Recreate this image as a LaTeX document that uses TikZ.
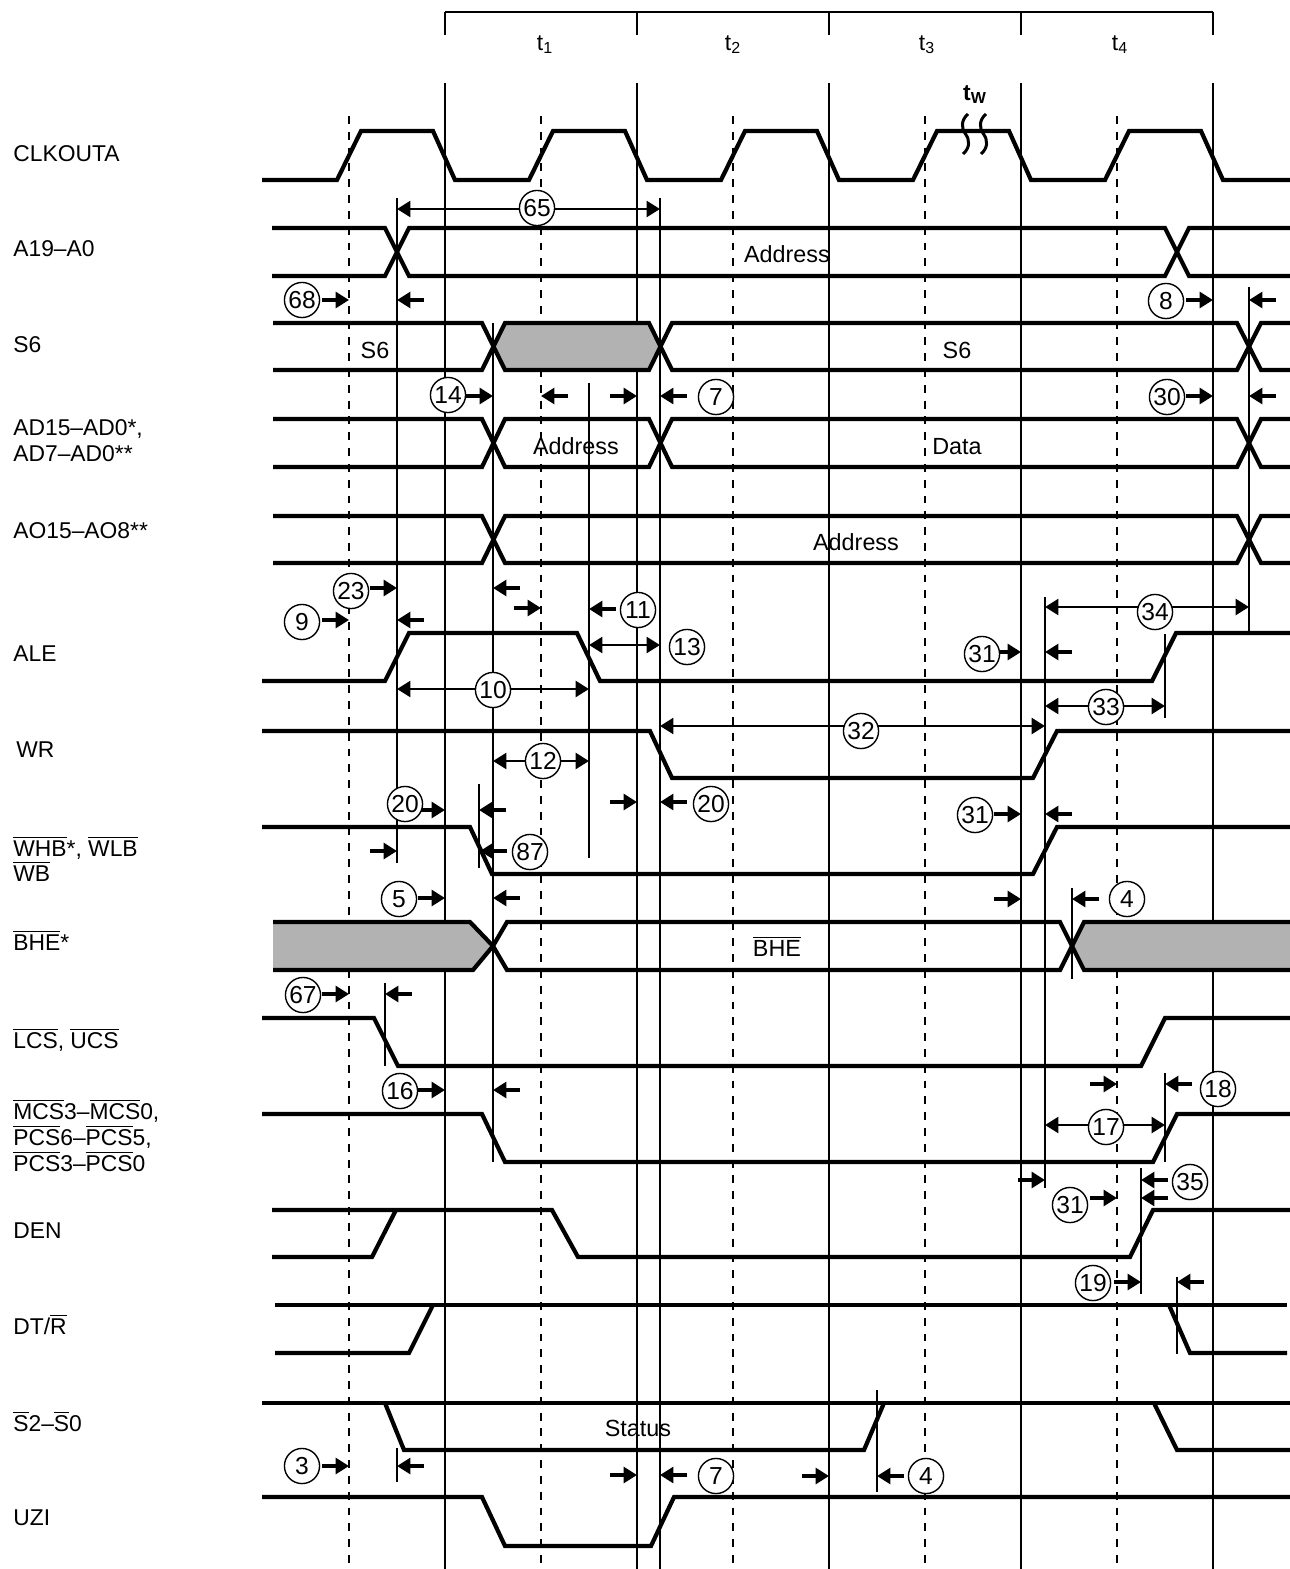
\documentclass[tikz,border=0pt]{standalone}
\usepackage{fontspec}
\setmainfont{Liberation Sans}
\usepackage{tikz}
\usetikzlibrary{arrows.meta}
\newcommand{\nbar}[1]{\ensuremath{\overline{\mbox{#1}}}}
\tikzset{
    sig/.style={line width=2.4pt, line join=miter},
    gridline/.style={line width=0.7pt},
    halfline/.style={line width=0.7pt, dash pattern=on 4.5pt off 4.5pt},
    limline/.style={line width=1.1pt},
    arr/.style={-{Triangle[length=7.6pt,width=9pt]}, line width=1.8pt},
    darr/.style={{Triangle[length=7.6pt,width=9pt]}-{Triangle[length=7.6pt,width=9pt]}, line width=1.6pt},
    num/.style={circle, draw, fill=white, line width=0.8pt, minimum size=20pt, inner sep=0pt, font=\fontsize{14}{14}\selectfont},
    siglabel/.style={anchor=base west, inner sep=0pt, font=\fontsize{13}{15}\selectfont},
    bustext/.style={anchor=base, inner sep=0pt, font=\fontsize{13.3}{15}\selectfont}
}
\begin{document}
\begin{tikzpicture}[x=0.02cm, y=-0.02cm]
    \useasboundingbox (0,0) rectangle (1290,1569);
    % Lưới thời gian: t1..t4
    \draw[gridline] (445,12) -- (1213,12);
    \foreach \x in {445,637,829,1021,1213} {
        \draw[gridline] (\x,12) -- (\x,35);
        \draw[gridline] (\x,83) -- (\x,1569);
    }
    \foreach \x in {349,541,733,925,1117}
        \draw[halfline] (\x,116) -- (\x,1569);
    \node[anchor=base, font=\fontsize{13}{15}\selectfont] (tOne) at (545,50) {t\textsubscript{1}};
    \node[anchor=base, font=\fontsize{13}{15}\selectfont] (tTwo) at (733,50) {t\textsubscript{2}};
    \node[anchor=base, font=\fontsize{13}{15}\selectfont] (tThree) at (927,50) {t\textsubscript{3}};
    \node[anchor=base, font=\fontsize{13}{15}\selectfont] (tFour) at (1120,50) {t\textsubscript{4}};
    \node[anchor=base, font=\fontsize{13}{15}\selectfont\bfseries] (tWait) at (975,100) {t\textsubscript{W}};

    % Vùng xám (không xác định)
    \fill[gray!60] (493,346.5) -- (505,323) -- (649,323) -- (660.5,346.5) -- (649,370) -- (505,370) -- cycle;
    \fill[gray!60] (273,922) -- (470,922) -- (493,946) -- (473,970) -- (273,970) -- cycle;
    \fill[gray!60] (1072,946) -- (1084,922) -- (1290,922) -- (1290,970) -- (1084,970) -- cycle;

    % CLKOUTA
    \draw[sig] (262,180) \foreach \k in {0,...,4} {
        -- ({337+192*\k},180) -- ({361+192*\k},131) -- ({433+192*\k},131) -- ({455+192*\k},180)
    } -- (1290,180);
    \draw[line width=1.7pt] (968,114) .. controls (961,120) and (961,128) .. (965.5,134)
        .. controls (970,140) and (970,148) .. (963,154);
    \draw[line width=1.7pt] (986,114) .. controls (979,120) and (979,128) .. (983.5,134)
        .. controls (988,140) and (988,148) .. (981,154);

    % A19-A0
    \draw[sig] (272,228) -- (385,228) -- (409,276) -- (1165,276) -- (1189,228) -- (1290,228);
    \draw[sig] (272,276) -- (385,276) -- (409,228) -- (1165,228) -- (1189,276) -- (1290,276);
    % S6
    \draw[sig] (273,323) -- (482,323) -- (505,370) -- (649,370) -- (672,323) -- (1237,323) -- (1261,370) -- (1290,370);
    \draw[sig] (273,370) -- (482,370) -- (505,323) -- (649,323) -- (672,370) -- (1237,370) -- (1261,323) -- (1290,323);
    % AD15-AD0
    \draw[sig] (273,419) -- (482,419) -- (505,467) -- (649,467) -- (672,419) -- (1237,419) -- (1261,467) -- (1290,467);
    \draw[sig] (273,467) -- (482,467) -- (505,419) -- (649,419) -- (672,467) -- (1237,467) -- (1261,419) -- (1290,419);
    % AO15-AO8
    \draw[sig] (273,516) -- (482,516) -- (505,563) -- (1237,563) -- (1261,516) -- (1290,516);
    \draw[sig] (273,563) -- (482,563) -- (505,516) -- (1237,516) -- (1261,563) -- (1290,563);
    % ALE, WR, WHB
    \draw[sig] (262,681) -- (385,681) -- (409,633) -- (577,633) -- (600,681) -- (1152,681) -- (1176,633) -- (1290,633);
    \draw[sig] (262,731) -- (650,731) -- (672,778) -- (1033,778) -- (1057,731) -- (1290,731);
    \draw[sig] (262,827) -- (470,827) -- (492,874) -- (1033,874) -- (1057,827) -- (1290,827);
    % BHE
    \draw[sig] (273,922) -- (470,922) -- (493,946) -- (507,970) -- (1060,970) -- (1072,946) -- (1084,922) -- (1290,922);
    \draw[sig] (273,970) -- (473,970) -- (493,946) -- (507,922) -- (1060,922) -- (1072,946) -- (1084,970) -- (1290,970);
    % LCS, MCS
    \draw[sig] (262,1018) -- (374,1018) -- (398,1066) -- (1141,1066) -- (1165,1018) -- (1290,1018);
    \draw[sig] (262,1114) -- (482,1114) -- (505,1162) -- (1153,1162) -- (1177,1114) -- (1290,1114);
    % DEN, DT/R
    \draw[sig] (272,1210) -- (552,1210) -- (578,1257) -- (1130,1257) -- (1153,1210) -- (1290,1210);
    \draw[sig] (272,1257) -- (372,1257) -- (396,1210);
    \draw[sig] (275,1305) -- (1287,1305);
    \draw[sig] (275,1353) -- (409,1353) -- (433,1305);
    \draw[sig] (1169,1305) -- (1190,1353) -- (1287,1353);
    % S2-S0, UZI
    \draw[sig] (262,1403) -- (1290,1403);
    \draw[sig] (385,1403) -- (404,1450) -- (864,1450) -- (884,1403);
    \draw[sig] (1154,1403) -- (1177,1450) -- (1290,1450);
    \draw[sig] (262,1497) -- (482,1497) -- (505,1546) -- (651,1546) -- (674,1497) -- (1290,1497);

    % Đường mốc thời gian
    \foreach \x/\ya/\yb in {397/198/863, 660/198/1569, 1249/287/632, 493/323/1162, 589/383/858,
        1045/597/1188, 1165/634/718, 479/784/868, 1072/888/979, 385/983/1066, 1165/1073/1162,
        1141/1168/1294, 1177/1277/1354, 877/1390/1492, 397/1448/1482}
        \draw[limline] (\x,\ya) -- (\x,\yb);

    % Mũi tên một phía
    \foreach \x/\y in {349/300, 1213/300, 493/396, 637/396, 1213/396, 397/588, 349/620, 541/608,
        1021/652, 445/810, 397/851, 637/802, 1021/814, 445/898, 1021/899, 349/994, 445/1090,
        1117/1084, 1045/1180, 1117/1198, 1141/1282, 349/1466, 637/1475, 829/1476}
        \draw[arr] ({\x-27},\y) -- (\x,\y);
    \foreach \x/\y in {397/300, 1249/300, 541/396, 660/396, 1249/396, 493/588, 397/620, 589/609,
        1045/652, 479/810, 480/851, 660/802, 1045/814, 493/898, 1072/899, 385/994, 493/1090,
        1165/1084, 1141/1180, 1141/1198, 1177/1282, 397/1466, 660/1475, 877/1476}
        \draw[arr] ({\x+27},\y) -- (\x,\y);
    % Mũi tên hai phía
    \foreach \xa/\xb/\y in {397/660/209, 589/660/645, 397/589/689, 1045/1249/607, 1045/1165/706,
        660/1045/726, 493/589/761, 1045/1165/1125}
        \draw[darr] (\xa,\y) -- (\xb,\y);

    % Số hiệu thông số
    \node[num] (n65) at (537,208) {65};
    \node[num] (n68) at (302,300) {68};
    \node[num] (n8) at (1166,301) {8};
    \node[num] (n14) at (448,395) {14};
    \node[num] (n7a) at (716,397) {7};
    \node[num] (n30) at (1167,397) {30};
    \node[num] (n23) at (351,591) {23};
    \node[num] (n9) at (302,622) {9};
    \node[num] (n11) at (638,610) {11};
    \node[num] (n13) at (687,647) {13};
    \node[num] (n10) at (493,690) {10};
    \node[num] (n34) at (1155,612) {34};
    \node[num] (n31a) at (982,654) {31};
    \node[num] (n33) at (1106,707) {33};
    \node[num] (n32) at (861,731) {32};
    \node[num] (n12) at (543,761) {12};
    \node[num] (n20a) at (405,804) {20};
    \node[num] (n20b) at (711,804) {20};
    \node[num] (n31b) at (975,815) {31};
    \node[num] (n87) at (530,852) {87};
    \node[num] (n5) at (399,899) {5};
    \node[num] (n4a) at (1127,899) {4};
    \node[num] (n67) at (303,995) {67};
    \node[num] (n16) at (400,1091) {16};
    \node[num] (n18) at (1218,1089) {18};
    \node[num] (n17) at (1106,1127) {17};
    \node[num] (n35) at (1190,1182) {35};
    \node[num] (n31c) at (1070,1205) {31};
    \node[num] (n19) at (1093,1283) {19};
    \node[num] (n3) at (302,1466) {3};
    \node[num] (n7b) at (716,1476) {7};
    \node[num] (n4b) at (926,1476) {4};

    % Chữ trong bus
    \node[bustext] (tA19) at (787,262) {Address};
    \node[bustext] (tS6a) at (375,358) {S6};
    \node[bustext] (tS6b) at (957,358) {S6};
    \node[bustext] (tAD) at (576,454) {Address};
    \node[bustext] (tData) at (957,454) {Data};
    \node[bustext] (tAO) at (856,550) {Address};
    \node[bustext] (tBHE) at (777,956) {\nbar{BHE}};
    \node[bustext] (tStat) at (638,1436) {Status};

    % Tên tín hiệu
    \node[siglabel] (lClk) at (13,161.5) {CLKOUTA};
    \node[siglabel] (lA19) at (13,256.5) {A19–A0};
    \node[siglabel] (lS6) at (13,352) {S6};
    \node[siglabel] (lADa) at (13,435) {AD15–AD0*,};
    \node[siglabel] (lADb) at (13,461.5) {AD7–AD0**};
    \node[siglabel] (lAO) at (13,538) {AO15–AO8**};
    \node[siglabel] (lALE) at (13,661) {ALE};
    \node[siglabel] (lWR) at (16,757) {WR};
    \node[siglabel] (lWHB) at (13,856) {\nbar{WHB}*, \nbar{WLB}};
    \node[siglabel] (lWB) at (13,881) {\nbar{WB}};
    \node[siglabel] (lBHE) at (13,950) {\nbar{BHE}*};
    \node[siglabel] (lLCS) at (13,1048) {\nbar{LCS}, \nbar{UCS}};
    \node[siglabel] (lMCS) at (13,1119) {\nbar{MCS}3–\nbar{MCS}0,};
    \node[siglabel] (lPCSa) at (13,1145) {\nbar{PCS}6–\nbar{PCS}5,};
    \node[siglabel] (lPCSb) at (13,1171) {\nbar{PCS}3–\nbar{PCS}0};
    \node[siglabel] (lDEN) at (13,1238) {DEN};
    \node[siglabel] (lDTR) at (13,1334) {DT/\nbar{R}};
    \node[siglabel] (lS2) at (13,1431) {\nbar{S}2–\nbar{S}0};
    \node[siglabel] (lUZI) at (13,1525) {UZI};
\end{tikzpicture}
\end{document}
